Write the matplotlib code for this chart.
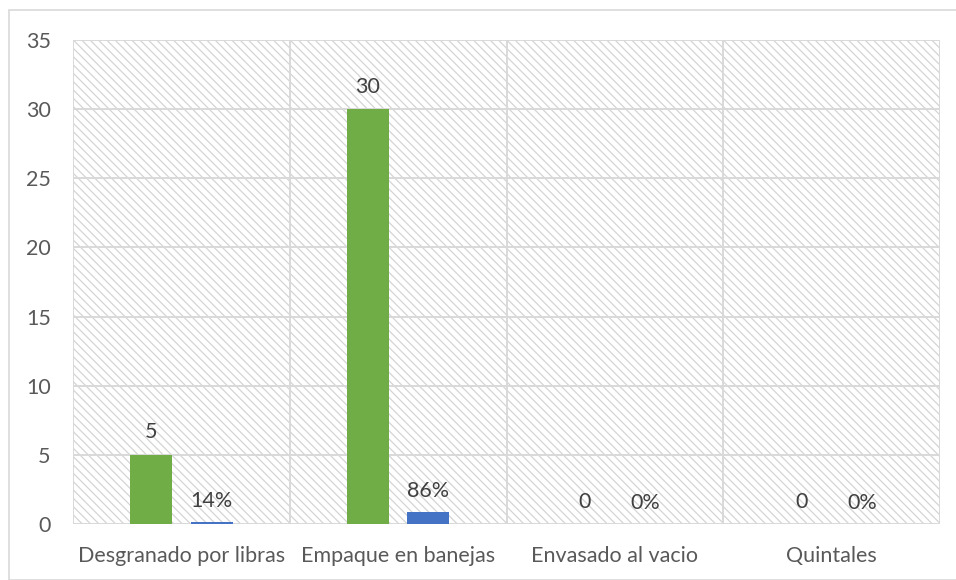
import matplotlib
matplotlib.use("Agg")
import matplotlib.pyplot as plt
from matplotlib.patches import Rectangle
import numpy as np

categories = ["Desgranado por libras", "Empaque en banejas", "Envasado al vacio", "Quintales"]
counts = [5, 30, 0, 0]
shares = [0.14, 0.86, 0.0, 0.0]
share_labels = ["14%", "86%", "0%", "0%"]
yticks = [0, 5, 10, 15, 20, 25, 30, 35]

plt.rcParams['font.family'] = ['Lato', 'DejaVu Sans']
plt.rcParams['hatch.color'] = '#d4d4d4'
plt.rcParams['hatch.linewidth'] = 0.9

W, H = 956, 580
fig = plt.figure(figsize=(W/100, H/100), dpi=100)
# outer border
fig.patches.append(Rectangle((9/W, 0), 1.0, 1 - 10/H, transform=fig.transFigure,
                             fill=False, edgecolor='#d9d9d9', linewidth=1.2))
ax = fig.add_axes([73/W, 1 - 524/H, (940-73)/W, (524-40)/H])

ax.set_xlim(-0.5, len(categories) - 0.5)
ax.set_ylim(0, 35)
# hatched background
ax.add_patch(Rectangle((-0.5, 0), len(categories), 35, facecolor='white',
                       edgecolor='#d4d4d4', hatch='\\\\\\\\', linewidth=0, zorder=0))

text_color = '#595959'
grid_color = '#d9d9d9'
for y in yticks:
    ax.axhline(y, color=grid_color, lw=1.4, zorder=1)
for xb in np.arange(-0.5, len(categories) + 0.5, 1):
    ax.axvline(xb, color=grid_color, lw=1.4, zorder=1)

x = np.arange(len(categories))
bw = 0.194
off = 0.14
ax.bar(x - off, counts, width=bw, color='#70ad47', zorder=3)
ax.bar(x + off, shares, width=bw, color='#4472c4', zorder=3)

fs = 15.5
for xi, c in zip(x, counts):
    ax.annotate(str(c), (xi - off, c), xytext=(0, 9), textcoords='offset points',
                ha='center', va='bottom', fontsize=fs, color='#404040')
for xi, s, lab in zip(x, shares, share_labels):
    ax.annotate(lab, (xi + off, s), xytext=(0, 8), textcoords='offset points',
                ha='center', va='bottom', fontsize=fs, color='#404040')

for sp in ax.spines.values():
    sp.set_visible(False)
ax.set_yticks(yticks)
ax.set_yticklabels([str(v) for v in yticks])
ax.set_xticks(x)
ax.set_xticklabels(categories)
ax.tick_params(axis='both', length=0, labelsize=fs, colors=text_color)
ax.tick_params(axis='y', pad=16)
ax.tick_params(axis='x', pad=16)

fig.savefig("out.png", dpi=100)
